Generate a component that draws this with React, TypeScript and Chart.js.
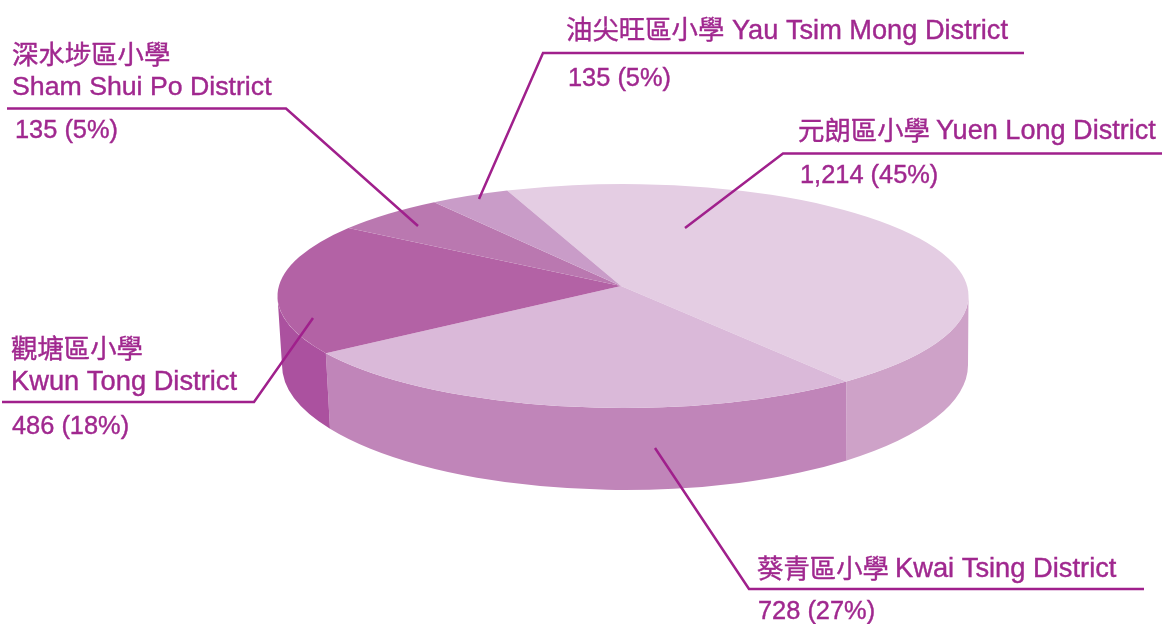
import React, { useEffect, useRef } from "react";
import { Chart, registerables } from "chart.js";

Chart.register(...registerables);

const chineseNames = ["元朗區小學", "葵青區小學", "觀塘區小學", "深水埗區小學", "油尖旺區小學"];
const englishNames = [
  "Yuen Long District",
  "Kwai Tsing District",
  "Kwun Tong District",
  "Sham Shui Po District",
  "Yau Tsim Mong District",
];
const students = [1214, 728, 486, 135, 135];
const percents = [45, 27, 18, 5, 5];
const topColors = ["#E4CDE3", "#DAB9D9", "#B362A5", "#BA78B0", "#C99CC8"];
const wallColors = ["#CEA2C8", "#C085B9", "#AB519F", "#BA78B0", "#C99CC8"];

// Hand-drawn artwork: how far (degrees) each slice's far edge sits from the true angle
const artworkEdgeShift = [-2.25, 0.2, 3.4, 4.9, 0.4];

const TEXT_COLOR = "#A0288F";
const LINE_COLOR = "#A0208C";
const FAMILY = '"Liberation Sans", "Noto Sans CJK TC", sans-serif';

const TOP = { cx: 623, cy: 296, rx: 345.5, ry: 112, vx: 621, vy: 286 };
const BOTTOM = { cx: 625, cy: 365, rx: 343, ry: 125 };

type Callout = {
  chinese: [number, number];
  english: [number, number, number];
  value: [number, number];
  leader: [number, number][];
};

const callouts: Callout[] = [
  {
    chinese: [798, 139.5],
    english: [936, 139, 27.1],
    value: [800, 183],
    leader: [[1162, 153.5], [783, 153.5], [685, 228]],
  },
  {
    chinese: [757, 578],
    english: [895, 577, 27.3],
    value: [758, 619],
    leader: [[1144, 589], [749, 589], [655, 448]],
  },
  {
    chinese: [11, 358],
    english: [11, 390, 27.3],
    value: [12, 434],
    leader: [[2, 402], [254, 402], [313, 318]],
  },
  {
    chinese: [12, 64],
    english: [12, 95, 26.7],
    value: [15, 138],
    leader: [[7, 108.5], [286, 108.5], [418, 226]],
  },
  {
    chinese: [566, 39],
    english: [732, 39, 27.2],
    value: [568, 86],
    leader: [[1024, 53], [543, 53], [479, 199]],
  },
];

const DEG = Math.PI / 180;

const tiltedPie = {
  id: "tiltedPie",
  beforeDatasetDraw(chart: any) {
    const ctx: CanvasRenderingContext2D = chart.ctx;
    const arcs = chart.getDatasetMeta(0).data as any[];
    const ranges = arcs.map((arc, i) => {
      const prev = i === 0 ? artworkEdgeShift[artworkEdgeShift.length - 1] : artworkEdgeShift[i - 1];
      return [arc.startAngle + prev * DEG, arc.endAngle + artworkEdgeShift[i] * DEG];
    });

    // Outer walls, only on the near half of the disc
    ranges.forEach(([start, end], i) => {
      [0, 2 * Math.PI].forEach((base) => {
        const a = Math.max(start, base);
        const b = Math.min(end, base + Math.PI);
        if (b <= a) return;
        ctx.beginPath();
        ctx.ellipse(TOP.cx, TOP.cy, TOP.rx, TOP.ry, 0, a, b, false);
        ctx.ellipse(BOTTOM.cx, BOTTOM.cy, BOTTOM.rx, BOTTOM.ry, 0, b, a, true);
        ctx.closePath();
        ctx.fillStyle = wallColors[i];
        ctx.fill();
      });
    });

    // Top faces, all meeting at the foreshortened centre
    ranges.forEach(([start, end], i) => {
      ctx.beginPath();
      ctx.moveTo(TOP.vx, TOP.vy);
      ctx.ellipse(TOP.cx, TOP.cy, TOP.rx, TOP.ry, 0, start, end, false);
      ctx.closePath();
      ctx.fillStyle = topColors[i];
      ctx.fill();
    });
    return false;
  },
  afterDraw(chart: any) {
    const ctx: CanvasRenderingContext2D = chart.ctx;
    const text = (s: string, x: number, y: number, size: number) => {
      ctx.font = `${size}px ${FAMILY}`;
      ctx.fillText(s, x, y);
      ctx.lineWidth = 0.4;
      ctx.strokeText(s, x, y);
    };
    ctx.save();
    ctx.fillStyle = TEXT_COLOR;
    ctx.textBaseline = "alphabetic";
    ctx.textAlign = "left";
    callouts.forEach((c, i) => {
      ctx.strokeStyle = LINE_COLOR;
      ctx.lineWidth = 2.5;
      ctx.lineJoin = "miter";
      ctx.beginPath();
      c.leader.forEach(([x, y], k) => (k === 0 ? ctx.moveTo(x, y) : ctx.lineTo(x, y)));
      ctx.stroke();
      ctx.strokeStyle = TEXT_COLOR;
      text(chineseNames[i], c.chinese[0], c.chinese[1], 26.4);
      text(englishNames[i], c.english[0], c.english[1], c.english[2]);
      text(`${students[i].toLocaleString("en-US")} (${percents[i]}%)`, c.value[0], c.value[1], 25.4);
    });
    ctx.restore();
  },
};

export default function App() {
  const ref = useRef<HTMLCanvasElement>(null);
  useEffect(() => {
    const chart = new Chart(ref.current!, {
      type: "pie",
      data: {
        labels: chineseNames.map((n, i) => `${n} ${englishNames[i]}`),
        datasets: [{ data: students, backgroundColor: topColors, borderWidth: 0 }],
      },
      options: {
        responsive: false,
        animation: false,
        rotation: 340,
        layout: { padding: { left: 84, bottom: 32 } },
        plugins: { legend: { display: false }, tooltip: { enabled: false } },
      },
      plugins: [tiltedPie],
    } as any);
    return () => chart.destroy();
  }, []);
  return (
    <div style={{ position: "absolute", left: 0, top: 0, width: 1162, height: 624, background: "#fff" }}>
      <canvas ref={ref} width={1162} height={624} style={{ display: "block" }} />
    </div>
  );
}
